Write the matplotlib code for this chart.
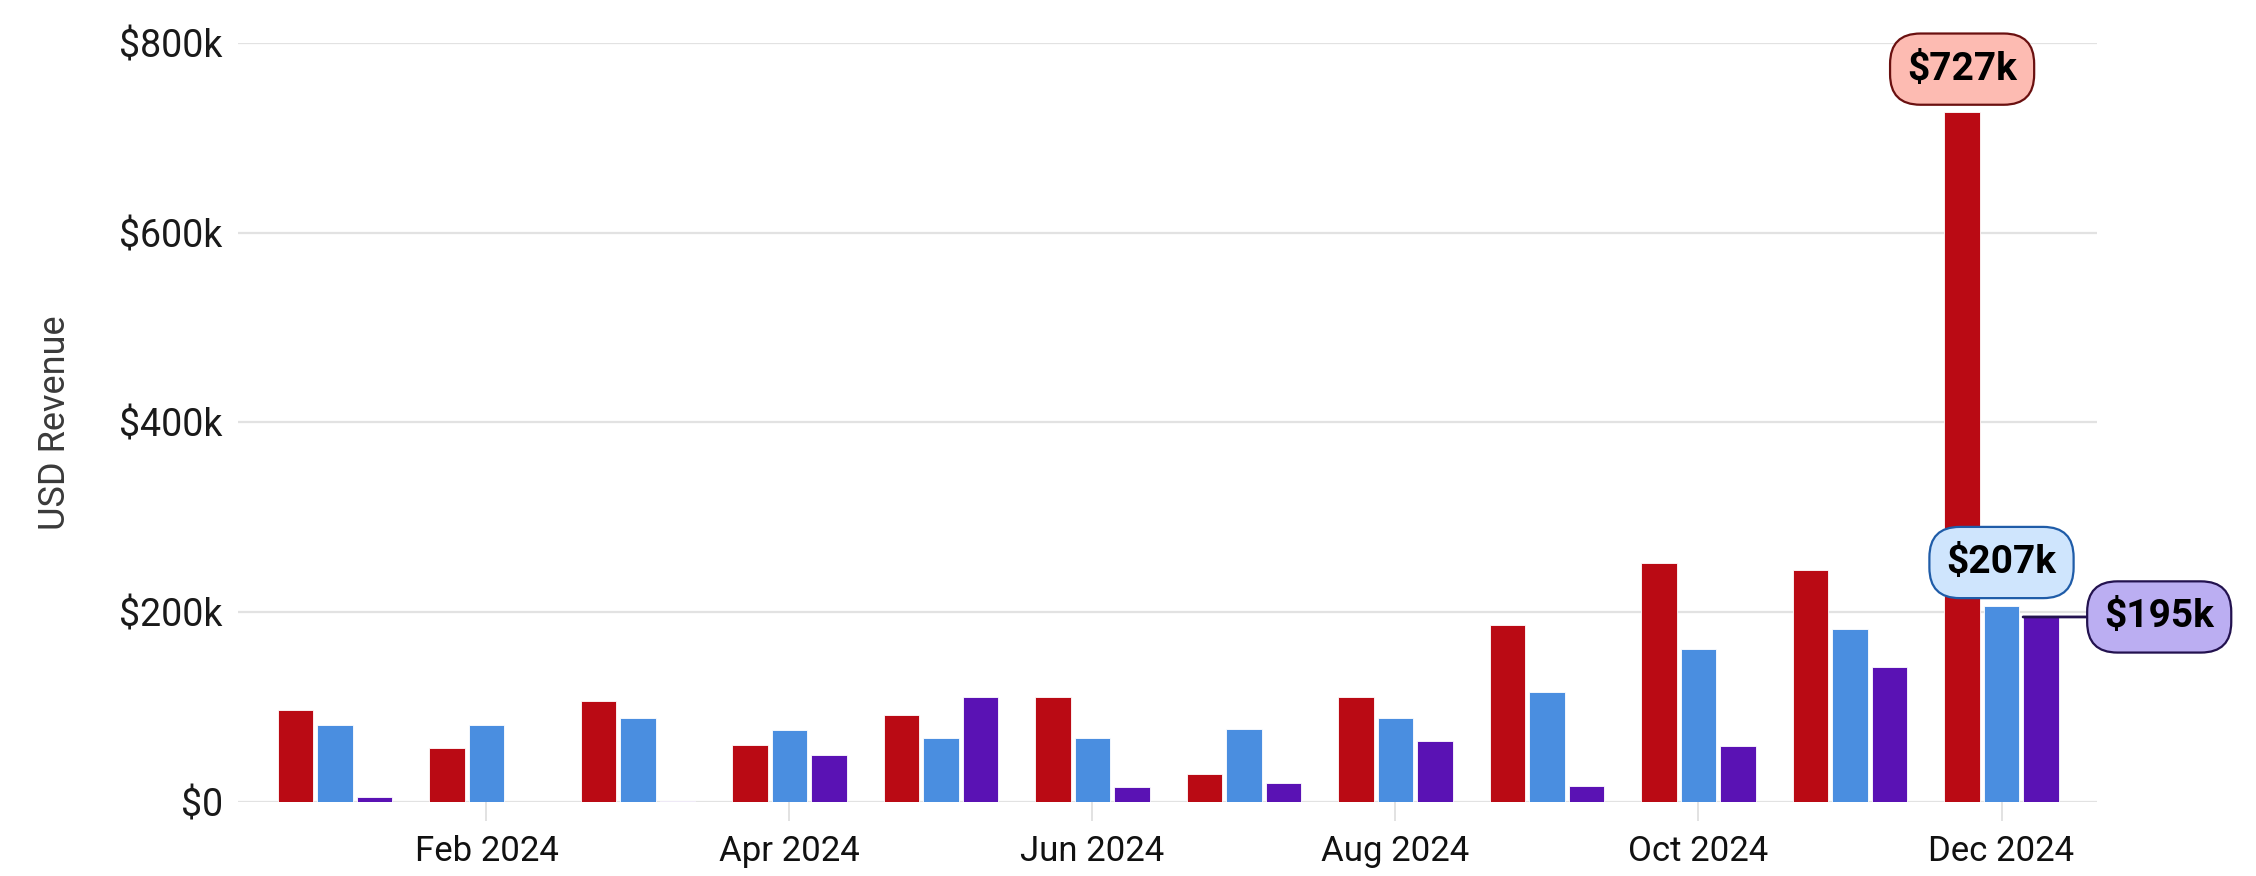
import numpy as np
import matplotlib.pyplot as plt
from matplotlib.ticker import FuncFormatter

plt.rcParams['font.family'] = ['Roboto', 'DejaVu Sans']

# Monthly revenue, thousands of USD
months = ['Jan 2024', 'Feb 2024', 'Mar 2024', 'Apr 2024', 'May 2024', 'Jun 2024',
          'Jul 2024', 'Aug 2024', 'Sep 2024', 'Oct 2024', 'Nov 2024', 'Dec 2024']
red_vals = [97, 57, 106, 60, 92, 111, 30, 111, 186, 252, 245, 727]
blue_vals = [81, 81, 88, 76, 67, 67, 77, 88, 116, 161, 182, 207]
purple_vals = [5, 0, 1, 49, 111, 16, 20, 64, 17, 59, 142, 195]
yticks = [0, 200, 400, 600, 800]

red = '#BA0A14'
blue = '#4A8EE0'
purple = '#5A12B4'

fig = plt.figure(figsize=(22.56, 8.76), dpi=100)
ax = fig.add_axes([0.1055, 0.0845, 0.824, 0.8665])

x = np.arange(len(months))
w = 0.235
off = 0.26
ax.bar(x - off, red_vals, w, color=red, edgecolor='white', linewidth=0.6, zorder=3)
ax.bar(x, blue_vals, w, color=blue, edgecolor='white', linewidth=0.6, zorder=3)
ax.bar(x + off, purple_vals, w, color=purple, edgecolor='white', linewidth=0.6, zorder=3)

ax.set_xlim(-0.64, 11.63)
ax.set_ylim(0, 800)
ax.set_yticks(yticks)
ax.yaxis.set_major_formatter(FuncFormatter(lambda v, p: '$0' if v == 0 else f'${v:.0f}k'))
ax.set_xticks(x[1::2])
ax.set_xticklabels(months[1::2])

ax.grid(axis='y', color='#e2e2e2', linewidth=1.6, zorder=0)
for s in ax.spines.values():
    s.set_visible(False)
ax.tick_params(axis='y', length=0, pad=11, labelsize=27, labelcolor='#1a1a1a')
ax.tick_params(axis='x', length=14, width=1.2, color='#dddddd', pad=10,
               labelsize=25, labelcolor='#111111')

ax.set_ylabel('USD Revenue', fontsize=26, color='#3a3a3a')
ax.yaxis.set_label_coords(-0.089, 0.5)

# Callouts for December
last = len(months) - 1
box = 'round,pad=0.44,rounding_size=0.78'
ax.annotate(f'${red_vals[last]}k', xy=(x[last] - off, red_vals[last]),
            xytext=(0, 31), textcoords='offset points', ha='center', va='center',
            fontsize=28, fontweight='bold', color='black', zorder=6,
            bbox=dict(boxstyle=box, fc='#FDBBB2', ec='#6A1010', lw=1.6))
ax.annotate(f'${blue_vals[last]}k', xy=(x[last], blue_vals[last]),
            xytext=(0, 31), textcoords='offset points', ha='center', va='center',
            fontsize=28, fontweight='bold', color='black', zorder=6,
            bbox=dict(boxstyle=box, fc='#CFE5FD', ec='#1F5CA8', lw=1.6))
ax.annotate(f'${purple_vals[last]}k', xy=(x[last] + off - w / 2, purple_vals[last]),
            xytext=(98, 0), textcoords='offset points', ha='center', va='center',
            fontsize=28, fontweight='bold', color='black', zorder=6,
            bbox=dict(boxstyle=box, fc='#BBAEF2', ec='#23124F', lw=1.6),
            arrowprops=dict(arrowstyle='-', color='#23124F', lw=2,
                            shrinkA=0, shrinkB=0))

fig.savefig('out.png', dpi=100)
